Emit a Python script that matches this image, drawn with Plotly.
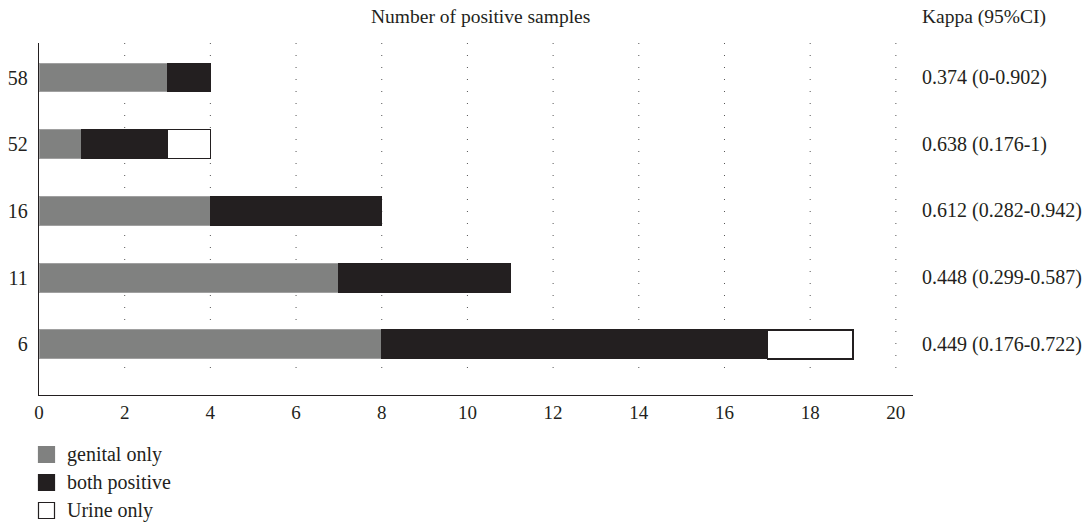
import plotly.graph_objects as go

# Serotype categories (bottom to top) and counts of positive samples
serotypes = ["6", "11", "16", "52", "58"]
genital_only = [8, 7, 4, 1, 3]
both_positive = [9, 4, 4, 2, 1]
urine_only = [2, 0, 0, 1, 0]
kappa_labels = [
    "0.449 (0.176-0.722)",
    "0.448 (0.299-0.587)",
    "0.612 (0.282-0.942)",
    "0.638 (0.176-1)",
    "0.374 (0-0.902)",
]
x_ticks = [0, 2, 4, 6, 8, 10, 12, 14, 16, 18, 20]

FONT = "Liberation Serif, Times New Roman, serif"
TEXT = "#231f20"
GRAY = "#808180"
BLACK = "#231f20"

W, H = 1092, 523
L, R, T, B = 39, 913, 43, 395  # plot-area edges in pixels


def px_x(p):
    return (p - L) / (R - L)


def px_y(p):
    return (B - p) / (B - T)


series = [
    ("genital only", genital_only, GRAY, dict(color="#a0a0a0", width=1)),
    ("both positive", both_positive, BLACK, dict(color=BLACK, width=1)),
    ("Urine only", urine_only, "white", dict(color=BLACK, width=1.3)),
]

fig = go.Figure()
for name, vals, col, edge in series:
    fig.add_trace(go.Bar(
        y=list(range(len(serotypes))), x=vals, orientation="h", name=name,
        marker=dict(color=col, line=edge), showlegend=False,
    ))

# dotted vertical guides at each tick
for t in x_ticks[1:]:
    fig.add_shape(type="line", xref="x", yref="paper", x0=t, x1=t, y0=px_y(368), y1=1,
                  line=dict(color="#555555", width=1, dash="1px,11px"), layer="below")

# kappa column
for i, lab in enumerate(kappa_labels):
    fig.add_annotation(x=px_x(920), xref="paper", y=i, yref="y", text=lab,
                       showarrow=False, xanchor="left", yanchor="middle",
                       font=dict(family=FONT, size=20, color=TEXT))

fig.add_annotation(x=px_x(920), xref="paper", y=px_y(17), yref="paper", text="Kappa (95%CI)",
                   showarrow=False, xanchor="left", yanchor="middle",
                   font=dict(family=FONT, size=19.5, color=TEXT))
fig.add_annotation(x=px_x(480), xref="paper", y=px_y(17), yref="paper",
                   text="Number of positive samples",
                   showarrow=False, xanchor="center", yanchor="middle",
                   font=dict(family=FONT, size=19.5, color=TEXT))

# legend: swatches and labels below the axis
legend_rows = [454.5, 482.5, 510.5]
for (name, vals, col, edge), cy in zip(series, legend_rows):
    fig.add_shape(type="rect", xref="paper", yref="paper",
                  x0=px_x(38.5), x1=px_x(54.5), y0=px_y(cy + 8), y1=px_y(cy - 8),
                  fillcolor=col,
                  line=dict(color=BLACK if col == "white" else col, width=1.2))
    fig.add_annotation(x=px_x(65), xref="paper", y=px_y(cy), yref="paper", text=name,
                       showarrow=False, xanchor="left", yanchor="middle",
                       font=dict(family=FONT, size=20, color=TEXT))

fig.update_layout(
    barmode="stack",
    bargap=0.566,
    width=W, height=H,
    margin=dict(l=L, r=W - R, t=T, b=H - B, autoexpand=False),
    paper_bgcolor="white", plot_bgcolor="white",
    font=dict(family=FONT, size=20, color=TEXT),
    showlegend=False,
    xaxis=dict(
        range=[0, 20.4], tickvals=x_ticks, showgrid=False, zeroline=False,
        showline=True, linecolor=BLACK, linewidth=1.3, ticks="", automargin=False,
        tickfont=dict(family=FONT, size=19, color=TEXT),
    ),
    yaxis=dict(
        range=[-0.757, 4.517], tickvals=list(range(len(serotypes))), ticktext=serotypes,
        showgrid=False, zeroline=False, automargin=False,
        showline=True, linecolor=BLACK, linewidth=1.3, ticks="",
        tickfont=dict(family=FONT, size=20, color=TEXT), ticklabelstandoff=6,
    ),
)

fig.write_html("out.html")
